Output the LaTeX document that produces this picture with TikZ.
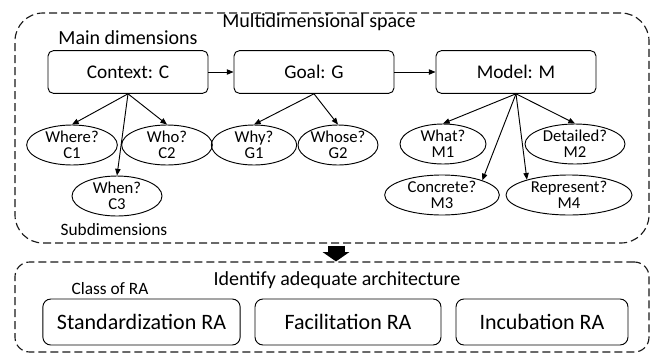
\documentclass[tikz,border=0pt]{standalone}
\usepackage{fontspec}
\setmainfont{Carlito}
\usetikzlibrary{arrows.meta}
\usetikzlibrary{shapes.geometric, positioning}

\begin{document}
\begin{tikzpicture}[x=0.75pt, y=-0.75pt, line width=0.7pt, >={Triangle[length=5pt, width=4pt]},
    mainbox/.style={draw, rounded corners=4pt, minimum width=120pt, minimum height=32pt, font=\fontsize{14.5}{17}\selectfont},
    subq/.style={draw, ellipse, inner xsep=0pt, inner ysep=-3pt, minimum height=30pt, align=center, font=\fontsize{12.5}{12}\selectfont},
    raclass/.style={draw, rounded corners=6pt, minimum height=34.5pt, font=\fontsize{16.5}{20}\selectfont},
    area/.style={draw=black!90, line width=0.85pt, dash pattern=on 6pt off 3pt, minimum width=475.5pt},
    lbl/.style={inner sep=0pt, font=\fontsize{15}{18}\selectfont},
    sublbl/.style={inner sep=0pt, font=\fontsize{13}{16}\selectfont}]
  \useasboundingbox (0,0) rectangle (656,354);

  % the two dashed areas
  \node[area, rounded corners=21pt, minimum height=172.5pt] (space) at (332,128) {};
  \node[area, rounded corners=11pt, minimum height=67.5pt] (arch) at (332,307) {};

  \node[lbl] (spacetitle) at (319,22) {Multidimensional space};
  \node[lbl] (maindims) at (128,38) {Main dimensions};
  \node[sublbl] (subdims) at (114,230) {Subdimensions};

  % main dimensions
  \node[mainbox] (context) at (128,72) {Context: C};
  \node[mainbox] (goal) at (314,72) {Goal: G};
  \node[mainbox] (model) at (516,72) {Model: M};

  \draw[->] (context) -- (goal);
  \draw[->] (goal) -- (model);

  % subdimensions
  \node[subq, minimum width=68pt] (where) at (72,145) {Where?\\C1};
  \node[subq, minimum width=68pt] (who) at (167,145) {Who?\\C2};
  \node[subq, minimum width=67.5pt] (when) at (117,196) {When?\\C3};
  \node[subq, minimum width=64pt] (why) at (254,145) {Why?\\G1};
  \node[subq, minimum width=60pt] (whose) at (338,145) {Whose?\\G2};
  \node[subq, minimum width=64.5pt] (what) at (443,144) {What?\\M1};
  \node[subq, minimum width=75pt] (detailed) at (575,144) {Detailed?\\M2};
  \node[subq, minimum width=86pt] (concrete) at (442,195) {Concrete?\\M3};
  \node[subq, minimum width=94.5pt] (represent) at (569,195) {Represent?\\M4};

  \draw[->] (context.south) -- (where.north);
  \draw[->] (context.south) -- (who.north);
  \draw[->] (context.south) -- (when.north);
  \draw[->] (goal.south) -- (why.north);
  \draw[->] (goal.south) -- (whose.north);
  \draw[->] (model.south) -- (what.north);
  \draw[->] (model.south) -- (detailed.north);
  \draw[->] (model.south) -- (concrete.20);
  \draw[->] (model.south) -- (represent.160);

  % block arrow between the areas
  \draw[-{Triangle[length=7pt, width=20pt, line width=0pt]}, line width=12.75pt, shorten <=1.5pt]
    ([xshift=3pt]space.south) -- ([xshift=3pt]arch.north);

  % architecture classes
  \node[lbl] (archtitle) at (337,280) {Identify adequate architecture};
  \node[sublbl] (classra) at (110,289) {Class of RA};
  \node[raclass, minimum width=148pt] (std) at (141.5,322) {Standardization RA};
  \node[raclass, minimum width=139.5pt] (fac) at (348,322) {Facilitation RA};
  \node[raclass, minimum width=129pt] (inc) at (542,322) {Incubation RA};
\end{tikzpicture}
\end{document}
